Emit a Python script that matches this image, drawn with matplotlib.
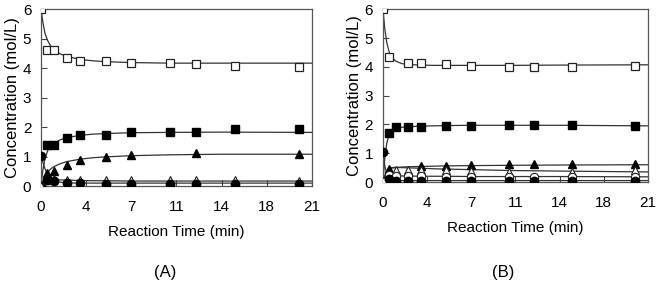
import numpy as np
import matplotlib
matplotlib.use("Agg")
import matplotlib.pyplot as plt

plt.rcParams['font.family'] = ['Liberation Sans', 'DejaVu Sans']

nan = np.nan

# measured points (same sampling times for both panels)
t_pts = [0, 0.5, 1, 2, 3, 5, 7, 10, 12, 15, 20]

# panel A
a_open_sq = [6.0, 4.62, 4.62, 4.36, 4.25, 4.25, 4.16, 4.18, 4.14, 4.07, 4.04]
a_fill_sq = [0.0, 1.38, 1.38, 1.63, 1.73, 1.73, 1.83, 1.82, 1.85, 1.94, 1.94]
a_fill_tri = [0.0, 0.45, 0.52, 0.73, 0.88, 0.98, 1.05, nan, 1.13, nan, 1.10]
a_open_tri = [0.0, 0.22, 0.24, 0.22, 0.22, 0.20, 0.20, 0.20, 0.19, 0.19, 0.18]
a_fill_circ = [1.03, 0.20, 0.18, 0.12, 0.10, 0.08, 0.07, 0.07, 0.06, 0.06, 0.06]

# panel B
b_open_sq = [6.0, 4.33, nan, 4.12, 4.12, 4.10, 4.04, 4.00, 4.00, 4.00, 4.02]
b_fill_sq = [0.0, 1.71, 1.91, 1.91, 1.91, 1.93, 1.96, 1.99, 1.99, 1.99, 1.96]
b_fill_tri = [0.0, 0.44, nan, nan, 0.57, 0.57, 0.60, 0.64, 0.64, 0.64, 0.64]
b_open_tri = [0.0, nan, 0.42, 0.42, 0.42, 0.40, 0.39, 0.36, nan, 0.36, 0.40]
b_open_circ = [0.0, 0.24, 0.22, 0.22, 0.20, 0.19, 0.18, 0.18, 0.18, 0.18, 0.18]
b_fill_circ = [1.05, 0.09, 0.04, 0.04, 0.04, 0.04, 0.04, 0.04, 0.04, 0.04, 0.04]

# model curves
t_fit = [0, 0.15, 0.3, 0.5, 0.75, 1, 1.5, 2, 3, 4, 5, 7, 10, 14, 21]

a_fit_open_sq = [6.0, 5.55, 5.2, 4.95, 4.75, 4.62, 4.48, 4.40, 4.30, 4.25, 4.22, 4.19, 4.17, 4.17, 4.17]
a_fit_fill_sq = [0.0, 0.55, 0.90, 1.18, 1.36, 1.46, 1.57, 1.64, 1.72, 1.76, 1.78, 1.81, 1.82, 1.83, 1.82]
a_fit_fill_tri = [0.0, 0.15, 0.30, 0.45, 0.58, 0.66, 0.76, 0.83, 0.91, 0.96, 0.99, 1.03, 1.06, 1.08, 1.08]
a_fit_open_tri = [0.0, 0.08, 0.14, 0.18, 0.20, 0.21, 0.21, 0.20, 0.19, 0.18, 0.18, 0.17, 0.17, 0.17, 0.17]
a_fit_fill_circ = [1.0, 0.80, 0.60, 0.40, 0.27, 0.19, 0.13, 0.11, 0.10, 0.10, 0.10, 0.10, 0.10, 0.10, 0.10]

b_fit_open_sq = [6.0, 5.3, 4.85, 4.50, 4.30, 4.20, 4.11, 4.08, 4.06, 4.05, 4.05, 4.05, 4.05, 4.06, 4.07]
b_fit_fill_sq = [0.0, 0.85, 1.35, 1.65, 1.80, 1.86, 1.90, 1.92, 1.94, 1.95, 1.96, 1.97, 1.97, 1.97, 1.95]
b_fit_fill_tri = [0.0, 0.22, 0.38, 0.47, 0.50, 0.51, 0.52, 0.53, 0.54, 0.55, 0.56, 0.57, 0.58, 0.59, 0.60]
b_fit_open_tri = [0.0, 0.20, 0.36, 0.45, 0.49, 0.50, 0.50, 0.49, 0.48, 0.46, 0.45, 0.43, 0.40, 0.38, 0.35]
b_fit_open_circ = [0.0, 0.08, 0.14, 0.18, 0.20, 0.21, 0.21, 0.21, 0.20, 0.20, 0.20, 0.19, 0.19, 0.19, 0.18]
b_fit_fill_circ = [1.0, 0.55, 0.30, 0.14, 0.08, 0.06, 0.05, 0.05, 0.05, 0.05, 0.05, 0.05, 0.05, 0.05, 0.05]

x_ticks = [0, 3.5, 7, 10.5, 14, 17.5, 21]
x_tick_labels = ['0', '4', '7', '11', '14', '18', '21']

line_kw = dict(color='#333333', lw=0.9, zorder=2)
sq_open = dict(marker='s', mfc='white', mec='#222222', ms=6, mew=0.9, ls='none', zorder=3)
sq_fill = dict(marker='s', mfc='black', mec='black', ms=6, ls='none', zorder=3)
tri_fill = dict(marker='^', mfc='black', mec='black', ms=5.5, ls='none', zorder=3)
tri_open = dict(marker='^', mfc='white', mec='#222222', ms=5.5, mew=0.8, ls='none', zorder=3)
circ_fill = dict(marker='o', mfc='black', mec='black', ms=6, ls='none', zorder=4)
circ_open = dict(marker='o', mfc='white', mec='#222222', ms=6, mew=0.8, ls='none', zorder=3)

fig = plt.figure(figsize=(6.62, 2.88), dpi=100)
axA = fig.add_axes([0.0619, 0.354, 0.4094, 0.614])
axB = fig.add_axes([0.5785, 0.368, 0.4003, 0.600])


def style(ax):
    ax.set_xlim(0, 21)
    ax.set_ylim(0, 6)
    ax.set_xticks(x_ticks)
    ax.set_xticklabels(x_tick_labels)
    ax.set_yticks(range(7))
    ax.tick_params(direction='in', length=4, width=0.8, labelsize=11, color='#444444')
    ax.tick_params(axis='x', pad=10)
    ax.tick_params(axis='y', pad=7)
    for s in ax.spines.values():
        s.set_color('#555555')
        s.set_linewidth(0.9)
    ax.set_xlabel('Reaction Time (min)', fontsize=11, labelpad=8)
    ax.set_ylabel('Concentration (mol/L)', fontsize=12, labelpad=2)


# panel A
axA.plot(t_fit, a_fit_open_sq, **line_kw)
axA.plot(t_fit, a_fit_fill_sq, **line_kw)
axA.plot(t_fit, a_fit_fill_tri, **line_kw)
axA.plot(t_fit, a_fit_open_tri, **line_kw)
axA.plot(t_fit, a_fit_fill_circ, **line_kw)
axA.plot(t_pts, a_open_sq, **sq_open)
axA.plot(t_pts, a_fill_sq, **sq_fill)
axA.plot(t_pts, a_fill_tri, **tri_fill)
axA.plot(t_pts, a_open_tri, **tri_open)
axA.plot(t_pts, a_fill_circ, **circ_fill)
style(axA)

# panel B
axB.plot(t_fit, b_fit_open_sq, **line_kw)
axB.plot(t_fit, b_fit_fill_sq, **line_kw)
axB.plot(t_fit, b_fit_fill_tri, **line_kw)
axB.plot(t_fit, b_fit_open_tri, **line_kw)
axB.plot(t_fit, b_fit_open_circ, **line_kw)
axB.plot(t_fit, b_fit_fill_circ, **line_kw)
axB.plot(t_pts, b_open_sq, **sq_open)
axB.plot(t_pts, b_fill_sq, **sq_fill)
axB.plot(t_pts, b_fill_tri, **tri_fill)
axB.plot(t_pts, b_open_tri, **tri_open)
axB.plot(t_pts, b_open_circ, **circ_open)
axB.plot(t_pts, b_fill_circ, **circ_fill)
style(axB)

fig.text(165 / 662, 1 - 272 / 288, '(A)', ha='center', va='center', fontsize=12)
fig.text(503 / 662, 1 - 272 / 288, '(B)', ha='center', va='center', fontsize=12)

fig.savefig('out.png', dpi=100)
